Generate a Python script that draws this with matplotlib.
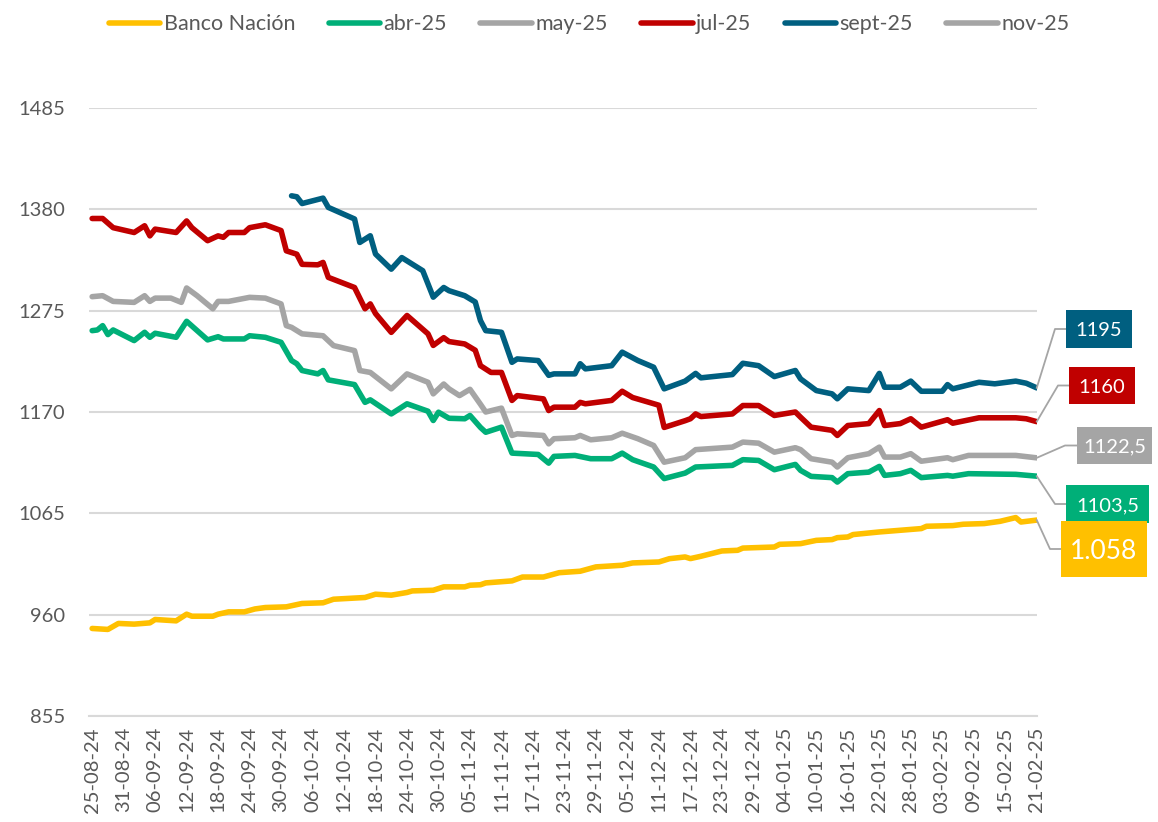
import matplotlib
matplotlib.use("Agg")
import matplotlib.pyplot as plt
import matplotlib.dates as mdates
from matplotlib.lines import Line2D
from matplotlib.patches import Rectangle
from matplotlib.transforms import IdentityTransform
import pandas as pd

plt.rcParams['font.family'] = ['Lato', 'DejaVu Sans']

# ---------------- data ----------------
series_names = ['Banco Nación', 'abr-25', 'may-25', 'jul-25', 'sept-25', 'nov-25']
series_colors = ['#FFC000', '#00AF78', '#A5A5A5', '#C00000', '#005F80', '#A5A5A5']

bn_dates = ['2024-08-25', '2024-08-28', '2024-08-30', '2024-09-02', '2024-09-05', '2024-09-06',
            '2024-09-10', '2024-09-12', '2024-09-13', '2024-09-17', '2024-09-18', '2024-09-20',
            '2024-09-23', '2024-09-25', '2024-09-27', '2024-10-01', '2024-10-04', '2024-10-08',
            '2024-10-10', '2024-10-16', '2024-10-18', '2024-10-21', '2024-10-24', '2024-10-25',
            '2024-10-29', '2024-10-31', '2024-11-04', '2024-11-05', '2024-11-07', '2024-11-08',
            '2024-11-13', '2024-11-15', '2024-11-19', '2024-11-22', '2024-11-26', '2024-11-29',
            '2024-12-04', '2024-12-06', '2024-12-11', '2024-12-13', '2024-12-16', '2024-12-17',
            '2024-12-19', '2024-12-23', '2024-12-26', '2024-12-27', '2025-01-02', '2025-01-03',
            '2025-01-07', '2025-01-10', '2025-01-13', '2025-01-14', '2025-01-16', '2025-01-17',
            '2025-01-22', '2025-01-30', '2025-01-31', '2025-02-05', '2025-02-07', '2025-02-11',
            '2025-02-14', '2025-02-17', '2025-02-18', '2025-02-21']
bn_vals = [945.7, 944.7, 950.9, 950.2, 951.5, 955.0,
           953.6, 960.5, 958.4, 958.4, 960.5, 962.9,
           962.9, 965.9, 967.4, 968.1, 971.6, 972.3,
           976.0, 977.8, 981.2, 980.2, 983.0, 984.6,
           985.3, 988.8, 988.8, 990.5, 991.0, 992.9,
           995.0, 999.0, 999.0, 1003.5, 1005.0, 1009.5,
           1011.2, 1013.6, 1014.6, 1018.0, 1019.8, 1018.1,
           1020.5, 1026.0, 1026.7, 1029.0, 1030.1, 1032.9,
           1033.6, 1037.0, 1037.8, 1039.8, 1040.5, 1043.0,
           1045.7, 1049.2, 1051.6, 1052.3, 1053.7, 1054.4,
           1056.7, 1060.6, 1056.0, 1058.0]

abr_dates = ['2024-08-25', '2024-08-26', '2024-08-27', '2024-08-28', '2024-08-29', '2024-09-02',
             '2024-09-04', '2024-09-05', '2024-09-06', '2024-09-10', '2024-09-12', '2024-09-16',
             '2024-09-18', '2024-09-19', '2024-09-23', '2024-09-24', '2024-09-27', '2024-09-30',
             '2024-10-02', '2024-10-03', '2024-10-04', '2024-10-07', '2024-10-08', '2024-10-09',
             '2024-10-14', '2024-10-16', '2024-10-17', '2024-10-21', '2024-10-24', '2024-10-28',
             '2024-10-29', '2024-10-30', '2024-11-01', '2024-11-04', '2024-11-05', '2024-11-07',
             '2024-11-08', '2024-11-11', '2024-11-13', '2024-11-18', '2024-11-20', '2024-11-21',
             '2024-11-25', '2024-11-28', '2024-12-02', '2024-12-04', '2024-12-06', '2024-12-10',
             '2024-12-12', '2024-12-16', '2024-12-18', '2024-12-25', '2024-12-27', '2024-12-30',
             '2025-01-02', '2025-01-06', '2025-01-07', '2025-01-09', '2025-01-13', '2025-01-14',
             '2025-01-16', '2025-01-20', '2025-01-22', '2025-01-23', '2025-01-26', '2025-01-28',
             '2025-01-30', '2025-02-04', '2025-02-05', '2025-02-08', '2025-02-17', '2025-02-21']
abr_vals = [1254.3, 1255.0, 1259.5, 1250.2, 1255.0, 1244.0,
            1252.6, 1247.4, 1251.6, 1247.4, 1264.0, 1244.7,
            1248.0, 1245.7, 1245.7, 1249.0, 1247.4, 1242.2,
            1223.3, 1220.0, 1213.0, 1209.5, 1213.0, 1203.3,
            1198.4, 1180.0, 1182.6, 1168.0, 1178.5, 1170.8,
            1161.2, 1169.8, 1163.5, 1163.0, 1166.4, 1154.0,
            1149.0, 1154.3, 1127.4, 1126.0, 1117.0, 1124.0,
            1125.0, 1121.6, 1121.6, 1127.4, 1120.6, 1113.0,
            1101.0, 1106.7, 1113.0, 1114.7, 1120.6, 1119.8,
            1110.2, 1115.7, 1109.5, 1103.3, 1102.0, 1097.4,
            1106.1, 1107.7, 1113.6, 1104.3, 1106.1, 1109.5,
            1102.0, 1104.3, 1103.5, 1106.1, 1105.4, 1103.5]

may_dates = ['2024-08-25', '2024-08-27', '2024-08-29', '2024-09-02', '2024-09-04', '2024-09-05',
             '2024-09-06', '2024-09-09', '2024-09-11', '2024-09-12', '2024-09-14', '2024-09-17',
             '2024-09-18', '2024-09-20', '2024-09-24', '2024-09-27', '2024-09-30', '2024-10-01',
             '2024-10-02', '2024-10-04', '2024-10-08', '2024-10-10', '2024-10-14', '2024-10-15',
             '2024-10-17', '2024-10-21', '2024-10-24', '2024-10-28', '2024-10-29', '2024-10-31',
             '2024-11-01', '2024-11-03', '2024-11-05', '2024-11-07', '2024-11-08', '2024-11-11',
             '2024-11-13', '2024-11-14', '2024-11-19', '2024-11-20', '2024-11-21', '2024-11-25',
             '2024-11-26', '2024-11-28', '2024-12-02', '2024-12-04', '2024-12-07', '2024-12-10',
             '2024-12-12', '2024-12-16', '2024-12-18', '2024-12-25', '2024-12-27', '2024-12-30',
             '2025-01-02', '2025-01-06', '2025-01-07', '2025-01-09', '2025-01-13', '2025-01-14',
             '2025-01-16', '2025-01-20', '2025-01-22', '2025-01-23', '2025-01-26', '2025-01-28',
             '2025-01-30', '2025-02-04', '2025-02-05', '2025-02-08', '2025-02-17', '2025-02-21']
may_vals = [1289.5, 1290.5, 1284.6, 1283.6, 1290.5, 1284.6,
            1288.0, 1288.0, 1283.6, 1298.5, 1290.5, 1277.0,
            1284.6, 1284.6, 1288.8, 1288.0, 1282.0, 1259.5,
            1257.7, 1251.0, 1249.0, 1238.8, 1233.6, 1213.0,
            1211.0, 1194.0, 1209.5, 1200.8, 1188.8, 1199.0,
            1194.0, 1187.0, 1193.5, 1178.0, 1170.0, 1174.0,
            1145.7, 1147.4, 1145.7, 1137.0, 1142.3, 1143.3,
            1145.7, 1141.2, 1143.3, 1148.0, 1142.3, 1135.3,
            1118.0, 1122.6, 1131.0, 1133.6, 1138.8, 1137.7,
            1128.4, 1133.0, 1131.0, 1121.6, 1118.0, 1113.0,
            1122.6, 1126.8, 1133.6, 1123.3, 1123.3, 1126.8,
            1119.0, 1122.6, 1120.6, 1125.0, 1125.0, 1122.5]

jul_dates = ['2024-08-25', '2024-08-27', '2024-08-29', '2024-09-02', '2024-09-04', '2024-09-05',
             '2024-09-06', '2024-09-10', '2024-09-12', '2024-09-13', '2024-09-16', '2024-09-18',
             '2024-09-19', '2024-09-20', '2024-09-23', '2024-09-24', '2024-09-27', '2024-09-30',
             '2024-10-01', '2024-10-03', '2024-10-04', '2024-10-07', '2024-10-08', '2024-10-09',
             '2024-10-14', '2024-10-16', '2024-10-17', '2024-10-18', '2024-10-21', '2024-10-24',
             '2024-10-28', '2024-10-29', '2024-10-31', '2024-11-01', '2024-11-04', '2024-11-06',
             '2024-11-07', '2024-11-09', '2024-11-11', '2024-11-13', '2024-11-14', '2024-11-19',
             '2024-11-20', '2024-11-21', '2024-11-25', '2024-11-26', '2024-11-27', '2024-12-02',
             '2024-12-04', '2024-12-06', '2024-12-11', '2024-12-12', '2024-12-16', '2024-12-17',
             '2024-12-18', '2024-12-19', '2024-12-25', '2024-12-27', '2024-12-30', '2025-01-02',
             '2025-01-06', '2025-01-07', '2025-01-09', '2025-01-13', '2025-01-14', '2025-01-16',
             '2025-01-20', '2025-01-22', '2025-01-23', '2025-01-26', '2025-01-28', '2025-01-30',
             '2025-02-04', '2025-02-05', '2025-02-10', '2025-02-17', '2025-02-19', '2025-02-21']
jul_vals = [1370.5, 1370.5, 1361.0, 1356.0, 1363.0, 1352.5,
            1359.5, 1356.0, 1368.0, 1361.0, 1347.5, 1352.5,
            1351.0, 1356.0, 1356.0, 1361.0, 1364.0, 1358.0,
            1337.0, 1333.5, 1323.0, 1322.5, 1325.0, 1309.5,
            1299.0, 1277.0, 1282.0, 1272.0, 1252.5, 1270.0,
            1251.0, 1239.0, 1247.0, 1243.0, 1240.5, 1234.0,
            1218.0, 1211.0, 1211.0, 1182.0, 1187.0, 1183.6,
            1171.5, 1175.0, 1175.0, 1180.0, 1178.5, 1182.0,
            1191.5, 1185.0, 1177.0, 1154.0, 1161.0, 1163.0,
            1168.0, 1165.3, 1168.0, 1176.7, 1176.7, 1166.4,
            1170.0, 1164.6, 1154.3, 1151.0, 1145.7, 1156.0,
            1158.0, 1171.5, 1156.0, 1158.0, 1163.0, 1154.3,
            1162.0, 1158.4, 1164.0, 1164.0, 1163.0, 1160.0]

sept_dates = ['2024-10-02', '2024-10-03', '2024-10-04', '2024-10-08', '2024-10-09', '2024-10-14',
              '2024-10-15', '2024-10-17', '2024-10-18', '2024-10-21', '2024-10-23', '2024-10-27',
              '2024-10-29', '2024-10-31', '2024-11-01', '2024-11-04', '2024-11-06', '2024-11-07',
              '2024-11-08', '2024-11-11', '2024-11-13', '2024-11-14', '2024-11-18', '2024-11-20',
              '2024-11-21', '2024-11-25', '2024-11-26', '2024-11-27', '2024-12-02', '2024-12-04',
              '2024-12-07', '2024-12-10', '2024-12-12', '2024-12-16', '2024-12-18', '2024-12-19',
              '2024-12-25', '2024-12-27', '2024-12-30', '2025-01-02', '2025-01-06', '2025-01-07',
              '2025-01-10', '2025-01-13', '2025-01-14', '2025-01-16', '2025-01-20', '2025-01-22',
              '2025-01-23', '2025-01-26', '2025-01-28', '2025-01-30', '2025-02-03', '2025-02-04',
              '2025-02-05', '2025-02-10', '2025-02-13', '2025-02-17', '2025-02-19', '2025-02-21']
sept_vals = [1394.0, 1393.0, 1386.0, 1391.6, 1382.0, 1370.0,
             1345.7, 1352.6, 1333.7, 1318.0, 1330.0, 1316.4,
             1289.0, 1299.0, 1295.7, 1290.5, 1284.0, 1264.7,
             1254.3, 1252.6, 1221.5, 1225.0, 1223.3, 1208.0,
             1209.5, 1209.5, 1220.0, 1214.7, 1218.0, 1232.0,
             1223.3, 1216.4, 1194.0, 1202.0, 1210.0, 1205.4,
             1208.8, 1220.5, 1218.0, 1206.7, 1213.0, 1204.3,
             1192.2, 1188.8, 1183.7, 1194.0, 1192.2, 1210.0,
             1195.7, 1195.7, 1202.0, 1191.5, 1191.5, 1198.4,
             1194.0, 1200.8, 1199.2, 1202.0, 1199.8, 1195.0]

nov_dates = []
nov_vals = []

end_labels = ['1.058', '1103,5', '1122,5', '1160', '1195']
y_ticks = [855, 960, 1065, 1170, 1275, 1380, 1485]

# ---------------- figure ----------------
W, H = 1158, 822
fig = plt.figure(figsize=(W / 100, H / 100), dpi=100)
ax_left, ax_right, ax_top, ax_bot = 89, 1037, 108, 716
ax = fig.add_axes([ax_left / W, (H - ax_bot) / H, (ax_right - ax_left) / W, (ax_bot - ax_top) / H])

all_dates = [bn_dates, abr_dates, may_dates, jul_dates, sept_dates, nov_dates]
all_vals = [bn_vals, abr_vals, may_vals, jul_vals, sept_vals, nov_vals]

lines = []
for name, col, d, v in zip(series_names, series_colors, all_dates, all_vals):
    ln, = ax.plot(pd.to_datetime(d), v, color=col, lw=4.0, label=name,
                  solid_capstyle='round', solid_joinstyle='round', zorder=3)
    lines.append(ln)

start = pd.Timestamp('2024-08-25')
end = pd.Timestamp('2025-02-21')
ax.set_xlim(mdates.date2num(start) - 0.6, mdates.date2num(end) + 0.05)
ax.set_ylim(y_ticks[0], y_ticks[-1])
ax.set_yticks(y_ticks)
ax.set_yticklabels([str(t) for t in y_ticks])

xt = pd.date_range(start, end, freq='6D')
ax.set_xticks(xt)
ax.set_xticklabels([t.strftime('%d-%m-%y') for t in xt], rotation=90, va='top', ha='center')

ax.grid(axis='y', color='#D9D9D9', lw=1.5, zorder=0)
ax.grid(axis='x', visible=False)
for s in ax.spines.values():
    s.set_visible(False)
ax.spines['bottom'].set_visible(True)
ax.spines['bottom'].set_color('#D9D9D9')
ax.spines['bottom'].set_linewidth(1.5)
ax.tick_params(axis='both', length=0, colors='#595959', labelsize=14.5)
ax.tick_params(axis='y', pad=17)
ax.tick_params(axis='x', pad=8)

leg = fig.legend(handles=lines, labels=series_names, loc='upper center',
                 bbox_to_anchor=(589 / W, 1 + 5 / H), ncol=6, frameon=False,
                 fontsize=15.5, handlelength=2.4, handletextpad=0.15, columnspacing=1.55)
for t in leg.get_texts():
    t.set_color('#595959')
for lh in leg.get_lines():
    lh.set_linewidth(4.0)

# ---------------- end labels ----------------
idt = IdentityTransform()
# (series index, box x0, box top, box x1, box bottom, elbow x, font size) in pixel layout
label_boxes = [(4, 1066, 310, 1132, 348, 1055, 14.5),
               (3, 1069, 367, 1135, 404, 1058, 14.5),
               (2, 1077, 427, 1152, 464, 1065, 14.5),
               (1, 1066, 485, 1149, 523, 1055, 14.5),
               (0, 1061, 521, 1147, 577, 1050, 19)]

fig.canvas.draw()
for idx, x0, yt, x1, yb, ex, fs in label_boxes:
    d = pd.to_datetime(all_dates[idx][-1])
    v = all_vals[idx][-1]
    px, py = ax.transData.transform((mdates.date2num(d), v))
    cy = H - (yt + yb) / 2
    fig.add_artist(Line2D([px, ex, x0], [py, cy, cy], color='#A5A5A5', lw=1.3,
                          transform=idt, zorder=1))
    fig.add_artist(Rectangle((x0, H - yb), x1 - x0, yb - yt, facecolor=series_colors[idx],
                             edgecolor='none', transform=idt, zorder=2))
    fig.text((x0 + x1) / 2, cy, end_labels[idx], color='white', fontsize=fs,
             ha='center', va='center_baseline', transform=idt, zorder=3)

fig.savefig('out.png', dpi=100)
